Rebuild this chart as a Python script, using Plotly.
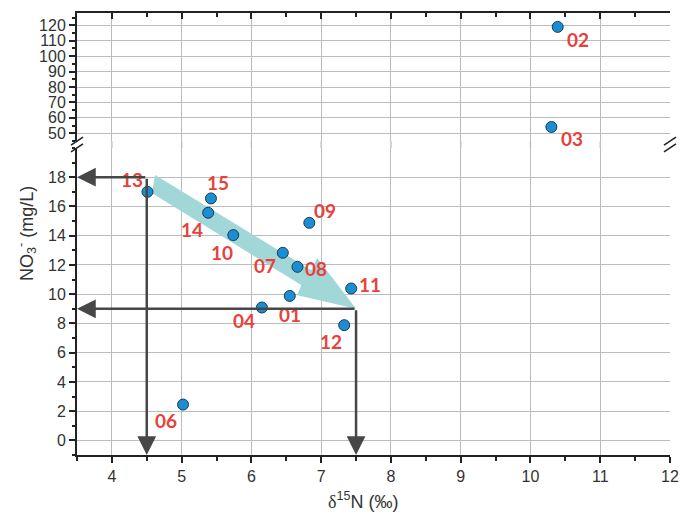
import plotly.graph_objects as go

# ---- data ----
sample_ids = ["01", "02", "03", "04", "06", "07", "08", "09", "10", "11", "12", "13", "14", "15"]
d15n = [6.55, 10.39, 10.30, 6.15, 5.02, 6.45, 6.66, 6.83, 5.74, 7.43, 7.33, 4.51, 5.38, 5.42]
no3 = [9.88, 119.0, 54.1, 9.09, 2.45, 12.83, 11.87, 14.88, 14.04, 10.39, 7.88, 17.0, 15.57, 16.55]
# label pixel offsets (dx, dy) relative to each point
label_dx = [0, 20, 21, -18, -17, -18, 19, 16, -11, 19, -13, -15, -16, 7]
label_dy = [19, 13, 12, 13, 16, 13, 2, -12, 17, -4, 16, -12, 17, -16]

x_ticks = [4, 5, 6, 7, 8, 9, 10, 11, 12]
low_ticks = [0, 2, 4, 6, 8, 10, 12, 14, 16, 18]
high_ticks = [50, 60, 70, 80, 90, 100, 110, 120]
x_range = [3.5, 12]
low_range = [-1, 20]
high_range = [45, 128]
break_value = 30

# guide lines: corner points (x, y)
guides = [(4.5, 18), (7.5, 9)]
# trend arrow outline (x, y) on lower axis
arrow_x = [4.62, 6.857, 6.943, 7.5, 6.657, 6.714, 4.571, 4.62]
arrow_y = [18.15, 11.64, 12.47, 9.0, 9.93, 10.62, 16.92, 18.15]

LOW_DOM = [0, 0.6946]
HIGH_DOM = [0.7104, 1]

fig = go.Figure()

# trend arrow
fig.add_trace(go.Scatter(x=arrow_x, y=arrow_y, xaxis="x", yaxis="y2", mode="lines",
                         fill="toself", fillcolor="#a2d7d8", line=dict(width=0),
                         hoverinfo="skip", showlegend=False))

marker = dict(size=11, color="#1b8ed3", line=dict(color="#1c3a55", width=1))
lo = [i for i, v in enumerate(no3) if v < break_value]
hi = [i for i, v in enumerate(no3) if v >= break_value]
fig.add_trace(go.Scatter(x=[d15n[i] for i in lo], y=[no3[i] for i in lo], xaxis="x", yaxis="y2",
                         mode="markers", marker=marker, showlegend=False))
fig.add_trace(go.Scatter(x=[d15n[i] for i in hi], y=[no3[i] for i in hi], xaxis="x2", yaxis="y",
                         mode="markers", marker=marker, showlegend=False))

annotations = []
label_font = dict(family="Lato", size=19, color="#e8413c")
for i, sid in enumerate(sample_ids):
    if no3[i] >= break_value:
        xr, yr = "x2", "y"
    else:
        xr, yr = "x", "y2"
    annotations.append(dict(x=d15n[i], y=no3[i], xref=xr, yref=yr, text="<b>%s</b>" % sid,
                            showarrow=False, font=label_font,
                            xshift=label_dx[i], yshift=-label_dy[i]))

# guide arrows
gcol = "#474747"
for gx, gy in guides:
    annotations.append(dict(x=x_range[0], y=gy, xref="x", yref="y2", ax=gx, ay=gy,
                            axref="x", ayref="y2", text="", showarrow=True, arrowhead=2,
                            arrowsize=1.5, arrowwidth=2.5, arrowcolor=gcol, standoff=0))
    annotations.append(dict(x=gx, y=low_range[0], xref="x", yref="y2", ax=gx, ay=gy,
                            axref="x", ayref="y2", text="", showarrow=True, arrowhead=2,
                            arrowsize=1.5, arrowwidth=2.5, arrowcolor=gcol, standoff=0))

# axis titles
annotations.append(dict(x=0.5, y=0, xref="paper", yref="paper", yshift=-45, xshift=-10,
                        xanchor="center", yanchor="middle",
                        text="<span style='font-family:Liberation Serif'>δ</span><sup>15</sup>N (‰)",
                        showarrow=False,
                        font=dict(family="Liberation Sans", size=18, color="#333")))
annotations.append(dict(x=0, y=0.5, xref="paper", yref="paper", xshift=-51,
                        xanchor="center", yanchor="middle",
                        text="NO<sub>3</sub><sup>-</sup> (mg/L)", showarrow=False, textangle=-90,
                        font=dict(family="Liberation Sans", size=18, color="#333")))

shapes = []
grid_col = "#b9bdbd"
# vertical grid lines through the gap
for t in x_ticks[:-1]:
    shapes.append(dict(type="line", xref="x", yref="paper", x0=t, x1=t,
                       y0=LOW_DOM[1], y1=HIGH_DOM[0], line=dict(color=grid_col, width=1.3)))
# break marks
pw, ph = 593.0, 442.0
for xp in (0, 1):
    for yp in (LOW_DOM[1], HIGH_DOM[0]):
        shapes.append(dict(type="line", xref="paper", yref="paper",
                           x0=xp - 6 / pw, x1=xp + 6 / pw, y0=yp - 4 / ph, y1=yp + 4 / ph,
                           line=dict(color="#222", width=1.5)))

tick_font = dict(family="Liberation Sans", size=16, color="#333")
axis_common = dict(showline=True, linecolor="#222", linewidth=2, gridcolor=grid_col, gridwidth=1.3,
                   zeroline=False, tickfont=tick_font, tickcolor="#222", ticklen=6, tickwidth=1.5,
                   automargin=False)

fig.update_layout(
    width=684, height=505,
    margin=dict(l=69, r=22, t=5, b=58),
    plot_bgcolor="white", paper_bgcolor="white",
    showlegend=False,
    xaxis=dict(range=x_range, anchor="y2", side="bottom", tickvals=x_ticks, ticks="outside",
               minor=dict(dtick=0.5, ticks="outside", ticklen=4, tickcolor="#222", showgrid=False),
               **axis_common),
    xaxis2=dict(range=x_range, anchor="y", side="top", tickvals=x_ticks, ticks="inside",
                showticklabels=False, matches="x",
                minor=dict(dtick=0.5, ticks="inside", ticklen=4, tickcolor="#222", showgrid=False),
                **axis_common),
    yaxis=dict(domain=HIGH_DOM, range=high_range, anchor="x2", tickvals=high_ticks, ticks="outside",
               minor=dict(dtick=5, ticks="outside", ticklen=3, tickcolor="#222", showgrid=False),
               **axis_common),
    yaxis2=dict(domain=LOW_DOM, range=low_range, anchor="x", tickvals=low_ticks, ticks="outside",
                minor=dict(dtick=1, ticks="outside", ticklen=3, tickcolor="#222", showgrid=False),
                **axis_common),
    yaxis3=dict(overlaying="y", side="right", range=high_range, tickvals=high_ticks, ticks="inside",
                showticklabels=False, showgrid=False, automargin=False,
                minor=dict(dtick=5, ticks="inside", ticklen=3, tickcolor="#222", showgrid=False),
                showline=True, linecolor="#222", linewidth=2, zeroline=False, tickcolor="#222",
                ticklen=6, tickwidth=1.5),
    yaxis4=dict(overlaying="y2", side="right", range=low_range, tickvals=low_ticks, ticks="inside",
                showticklabels=False, showgrid=False, automargin=False,
                minor=dict(dtick=1, ticks="inside", ticklen=3, tickcolor="#222", showgrid=False),
                showline=True, linecolor="#222", linewidth=2, zeroline=False, tickcolor="#222",
                ticklen=6, tickwidth=1.5),
    annotations=annotations,
    shapes=shapes,
)

fig.write_html("out.html")
